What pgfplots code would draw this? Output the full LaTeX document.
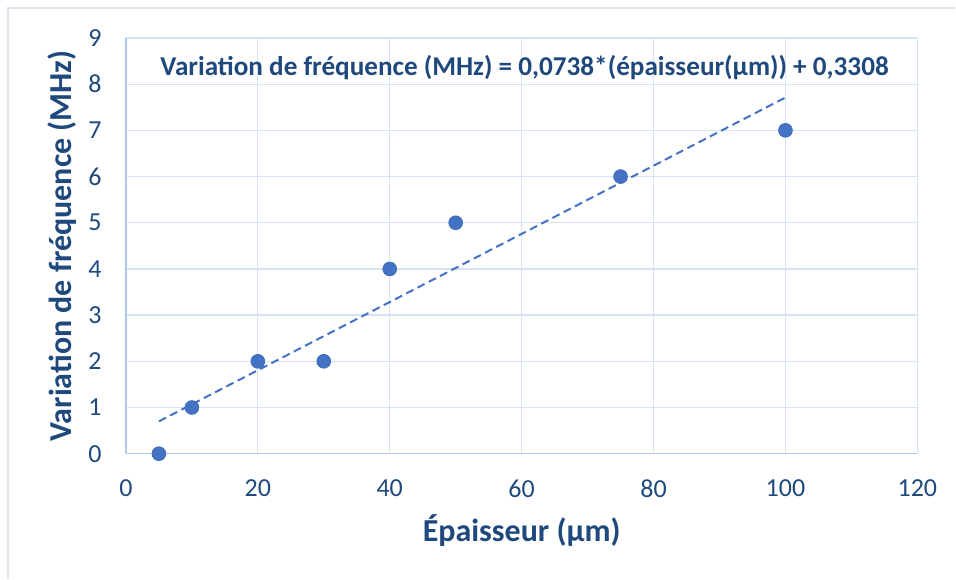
\documentclass[border=0pt]{standalone}
\usepackage{fontspec}
\setmainfont{Carlito}
\usepackage{pgfplots}
\pgfplotsset{compat=1.18}
\definecolor{txt}{HTML}{1F497D}
\definecolor{gridc}{HTML}{D6E3F5}
\definecolor{axc}{HTML}{AFC8EC}
\definecolor{ptc}{HTML}{4472C4}
\definecolor{ptedge}{HTML}{3E68B2}
\definecolor{framec}{HTML}{DCE3EC}
\begin{document}
\begin{tikzpicture}
\path (-94.5pt,-93.75pt) rectangle (622.5pt,340.5pt);
\draw[framec, line width=1pt] (-88.5pt,-93.75pt) -- (-88.5pt,334.5pt) -- (622.5pt,334.5pt);
\begin{axis}[
  at={(0,0)}, anchor=origin,
  scale only axis,
  width=594pt, height=312pt,
  xmin=0, xmax=120, ymin=0, ymax=9,
  xtick={0,20,...,120}, ytick={0,1,...,9},
  axis lines=left,
  axis line style={axc, line width=1pt, -},
  grid=major,
  major grid style={gridc, line width=1pt},
  major tick length=0pt,
  tick style={draw=none},
  /pgf/number format/assume math mode=true,
  ticklabel style={font=\fontsize{19.5}{19.5}\selectfont, text=txt, inner sep=0pt},
  x tick label style={anchor=center, yshift=-26pt},
  y tick label style={anchor=east, xshift=-18pt},
  xlabel={Épaisseur (µm)},
  ylabel={Variation de fréquence (MHz)},
  label style={font=\fontsize{24}{24}\selectfont\bfseries, text=txt},
  x label style={at={(rel axis cs:0.5,0)}, anchor=center, yshift=-58pt},
  y label style={at={(rel axis cs:0,0.5)}, anchor=center, yshift=48pt},
  clip=false,
]
\addplot[ptc, line width=1.5pt, dash pattern=on 6pt off 3.5pt] coordinates {(5,0.7) (100,7.7108)};
\addplot[only marks, mark=*, mark size=5.2pt, mark options={fill=ptc, draw=ptedge, line width=0.5pt}] coordinates {
(5,0) (10,1) (20,2) (30,2) (40,4) (50,5) (75,6) (100,7)};
\node[font=\fontsize{20.4}{20.4}\selectfont\bfseries, text=txt, anchor=center] at (axis cs:60.45,8.35) {Variation de fréquence (MHz) = 0,0738*(épaisseur(µm)) + 0,3308};
\end{axis}
\end{tikzpicture}
\end{document}
